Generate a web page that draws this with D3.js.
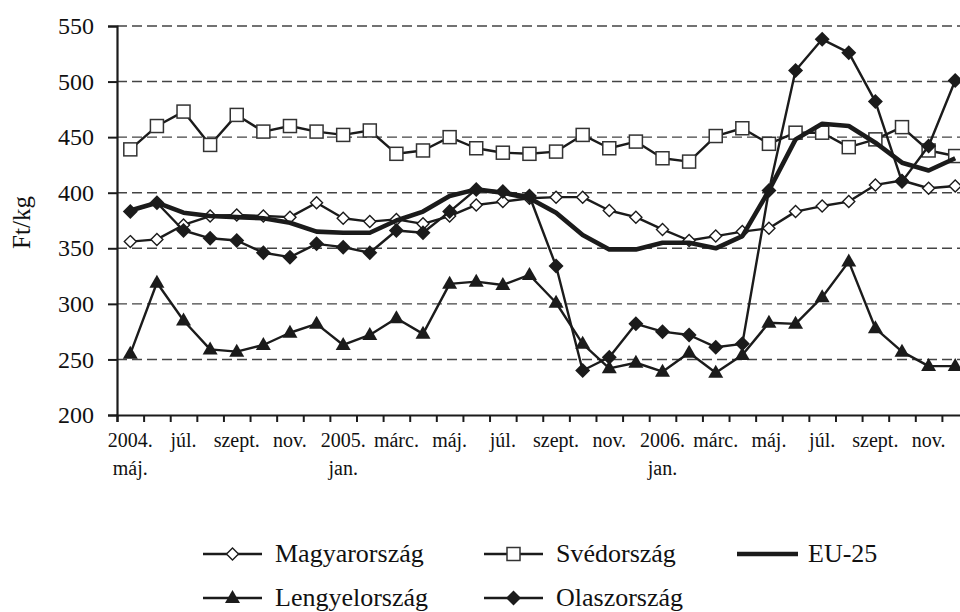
<!DOCTYPE html>
<html>
<head>
<meta charset="UTF-8">
<title>Ft/kg</title>
<script src="https://d3js.org/d3.v7.min.js"></script>
<style>
  body { margin: 0; background: #fff; }
  svg text { font-family: "Liberation Serif", "Times New Roman", serif; fill: #111; }
</style>
</head>
<body>
<div id="chart"></div>
<script>
// months May 2004 .. Dec 2006
const months = ["2004. máj.", "jún.", "júl.", "aug.", "szept.", "okt.", "nov.", "dec.",
  "2005. jan.", "febr.", "márc.", "ápr.", "máj.", "jún.", "júl.", "aug.", "szept.", "okt.", "nov.", "dec.",
  "2006. jan.", "febr.", "márc.", "ápr.", "máj.", "jún.", "júl.", "aug.", "szept.", "okt.", "nov.", "dec."];
const yTicks = [200, 250, 300, 350, 400, 450, 500, 550];

const magyar = [356, 358, 371, 379, 380, 379, 378, 391, 377, 374, 376, 372, 379, 389, 392, 395,
  396, 396, 384, 378, 367, 357, 361, 365, 368, 383, 388, 392, 407, 411, 404, 406];
const sved = [439, 460, 473, 443, 470, 455, 460, 455, 452, 456, 435, 438, 450, 440, 436, 435,
  437, 452, 440, 446, 431, 428, 451, 458, 444, 454, 454, 441, 448, 459, 438, 433];
const eu25 = [384, 391, 382, 379, 378, 377, 373, 365, 364, 364, 375, 383, 397, 403, 400, 395,
  382, 362, 349, 349, 355, 355, 350, 361, 402, 448, 462, 460, 445, 427, 420, 431];
const lengyel = [255, 319, 285, 259, 257, 263, 274, 282, 263, 272, 287, 273, 318, 320, 317, 326,
  301, 264, 242, 247, 239, 256, 238, 254, 283, 282, 306, 338, 278, 257, 244, 244];
const olasz = [383, 391, 366, 359, 357, 346, 342, 354, 351, 346, 366, 364, 383, 403, 401, 397,
  334, 240, 252, 282, 275, 272, 261, 264, 402, 510, 538, 526, 482, 410, 442, 501];

const W = 960, H = 612;
const plotLeft = 117, plotTop = 26, plotBottom = 415, step = 26.61;
const ink = "#1b1b1b";

const svg = d3.select("#chart").append("svg")
  .attr("width", W).attr("height", H);

const idx = d3.range(months.length);
const x = d3.scaleBand().domain(idx).range([plotLeft, plotLeft + months.length * step]);
const xEdge = d3.scaleLinear().domain([0, months.length]).range(x.range());
const y = d3.scaleLinear().domain([200, 550]).range([plotBottom, plotTop]);

// dashed grid
svg.append("g").selectAll("line")
  .data(yTicks.filter(d => d > 200))
  .join("line")
    .attr("x1", plotLeft).attr("x2", W)
    .attr("y1", d => y(d)).attr("y2", d => y(d))
    .attr("stroke", "#444").attr("stroke-width", 1.4)
    .attr("stroke-dasharray", "10,5");

// y axis
const yAxis = svg.append("g")
  .attr("transform", `translate(${plotLeft},0)`)
  .call(d3.axisLeft(y).tickValues(yTicks).tickSize(9).tickPadding(14))
  .attr("font-family", null).attr("font-size", null);
yAxis.select(".domain").attr("stroke", ink).attr("stroke-width", 2.2);
yAxis.selectAll(".tick line").attr("stroke", ink).attr("stroke-width", 2);
yAxis.selectAll(".tick text").attr("font-size", 24);

svg.append("text")
  .attr("transform", `translate(30,${(plotTop + plotBottom) / 2 + 2}) rotate(-90)`)
  .attr("text-anchor", "middle")
  .attr("font-size", 25)
  .text("Ft/kg");

// x axis ticks on band edges
const xAxis = svg.append("g")
  .attr("transform", `translate(0,${plotBottom})`)
  .call(d3.axisBottom(xEdge).tickValues(d3.range(months.length + 1)).tickFormat("").tickSize(7));
xAxis.select(".domain").attr("stroke", ink).attr("stroke-width", 2.2);
xAxis.selectAll(".tick line").attr("stroke", ink).attr("stroke-width", 2);

// x labels, every second month
const labels = svg.append("g").selectAll("text")
  .data(idx.filter(i => i % 2 === 0))
  .join("text")
    .attr("x", i => x(i) + x.bandwidth() / 2)
    .attr("y", plotBottom + 32)
    .attr("text-anchor", "middle")
    .attr("font-size", 20);
labels.each(function(i) {
  const parts = months[i].split(" ");
  const t = d3.select(this);
  t.append("tspan").attr("x", t.attr("x")).text(parts[0]);
  if (parts.length > 1) t.append("tspan").attr("x", t.attr("x")).attr("dy", 28).text(parts[1]);
});

// series
const cx = i => x(i) + x.bandwidth() / 2;
const line = d3.line().x((d, i) => cx(i)).y(d => y(d));

const series = [
  {name: "Svédország", data: sved, width: 2.4, marker: "square"},
  {name: "Magyarország", data: magyar, width: 2.4, marker: "diamondOpen"},
  {name: "EU-25", data: eu25, width: 4.6, marker: null},
  {name: "Lengyelország", data: lengyel, width: 2.4, marker: "triangle"},
  {name: "Olaszország", data: olasz, width: 2.4, marker: "diamond"}
];

function drawMarker(g, type, px, py) {
  if (type === "square") {
    g.append("rect").attr("x", px - 6.5).attr("y", py - 6.5).attr("width", 13).attr("height", 13)
      .attr("fill", "#fff").attr("stroke", "#333").attr("stroke-width", 1.5);
  } else if (type === "diamondOpen") {
    g.append("path").attr("d", `M${px},${py - 6}L${px + 6},${py}L${px},${py + 6}L${px - 6},${py}Z`)
      .attr("fill", "#fff").attr("stroke", ink).attr("stroke-width", 1.4);
  } else if (type === "diamond") {
    g.append("path").attr("d", `M${px},${py - 7.5}L${px + 7.5},${py}L${px},${py + 7.5}L${px - 7.5},${py}Z`)
      .attr("fill", ink);
  } else if (type === "triangle") {
    g.append("path").attr("d", `M${px},${py - 8}L${px + 7.5},${py + 5}L${px - 7.5},${py + 5}Z`)
      .attr("fill", ink);
  }
}

series.forEach(s => {
  const g = svg.append("g");
  g.append("path").datum(s.data)
    .attr("d", line)
    .attr("fill", "none")
    .attr("stroke", ink)
    .attr("stroke-width", s.width)
    .attr("stroke-linejoin", "round");
  if (s.marker) s.data.forEach((v, i) => drawMarker(g, s.marker, cx(i), y(v)));
});

// legend
const legendItems = [
  {name: "Magyarország", marker: "diamondOpen", width: 2.4, lx: 203, ly: 554},
  {name: "Svédország", marker: "square", width: 2.4, lx: 484, ly: 554},
  {name: "EU-25", marker: null, width: 4.6, lx: 737, ly: 554},
  {name: "Lengyelország", marker: "triangle", width: 2.4, lx: 203, ly: 598},
  {name: "Olaszország", marker: "diamond", width: 2.4, lx: 484, ly: 598}
];
legendItems.forEach(it => {
  const g = svg.append("g");
  const len = it.marker ? 59 : 61;
  g.append("line").attr("x1", it.lx).attr("x2", it.lx + len)
    .attr("y1", it.ly).attr("y2", it.ly)
    .attr("stroke", ink).attr("stroke-width", it.width);
  if (it.marker) drawMarker(g, it.marker, it.lx + len / 2, it.ly);
  g.append("text")
    .attr("x", it.lx + len + (it.marker ? 13 : 10))
    .attr("y", it.ly + 8)
    .attr("font-size", 26)
    .text(it.name);
});
</script>
</body>
</html>
